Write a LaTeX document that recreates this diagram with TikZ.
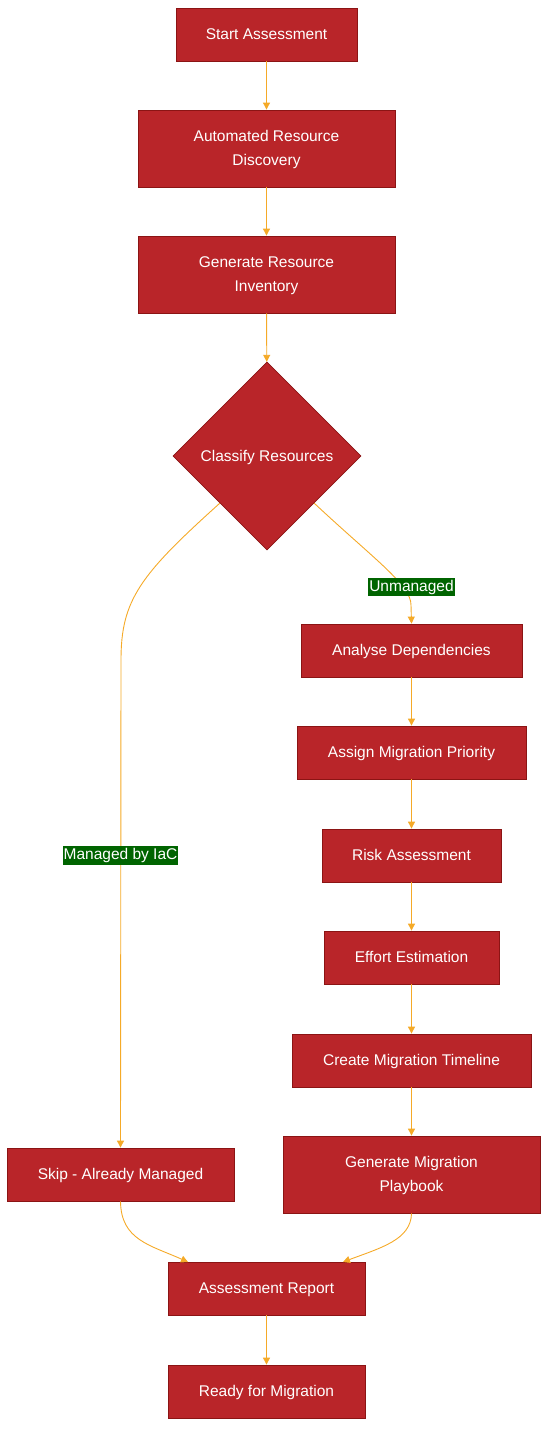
\documentclass[tikz,border=0pt]{standalone}
\usepackage{fontspec}
\setmainfont{Liberation Sans}
\usetikzlibrary{shapes.geometric,arrows.meta}

\definecolor{boxred}{RGB}{185,37,41}
\definecolor{boxline}{RGB}{139,20,20}
\definecolor{flowgold}{RGB}{245,170,40}
\definecolor{labelgreen}{RGB}{0,100,0}

\tikzset{
  stepbox/.style={draw=boxline, line width=0.8pt, fill=boxred, text=white,
    minimum height=53pt, inner sep=0pt, align=center, text depth=1pt,
    font=\fontsize{15.5}{24}\selectfont},
  decision/.style={diamond, draw=boxline, line width=0.8pt, fill=boxred, text=white,
    minimum width=188pt, minimum height=188pt, aspect=1, inner sep=0pt,
    text depth=1pt, font=\fontsize{15.5}{24}\selectfont},
  flowarrow/.style={draw=flowgold, line width=0.9pt,
    -{Triangle[width=7pt,length=7pt]}},
  edgelabel/.style={fill=labelgreen, text=white, inner xsep=1pt, inner ysep=2pt,
    font=\fontsize{15.5}{18}\selectfont}
}

\begin{document}
\begin{tikzpicture}[x=1pt,y=-1pt]
    \useasboundingbox (0,0) rectangle (556,1447);

    % Main column
    \node[stepbox, minimum width=181pt] (start) at (266.5,34.5) {Start Assessment};
    \node[stepbox, minimum width=257pt, minimum height=77pt] (disc) at (266.5,148.5) {Automated Resource\\Discovery};
    \node[stepbox, minimum width=257pt, minimum height=77pt] (inv) at (266.5,274.5) {Generate Resource\\Inventory};
    \node[decision] (cls) at (267,456) {Classify Resources};

    % Unmanaged branch on the right
    \node[stepbox, minimum width=221pt] (dep) at (411.5,650.5) {Analyse Dependencies};
    \node[stepbox, minimum width=229pt] (prio) at (411.5,752.5) {Assign Migration Priority};
    \node[stepbox, minimum width=179pt] (risk) at (411.5,855.5) {Risk Assessment};
    \node[stepbox, minimum width=175pt] (effort) at (411.5,957.5) {Effort Estimation};
    \node[stepbox, minimum width=239pt] (timeline) at (411.5,1060.5) {Create Migration Timeline};
    \node[stepbox, minimum width=257pt, minimum height=77pt] (play) at (411.5,1174.5) {Generate Migration\\Playbook};

    % Managed branch on the left
    \node[stepbox, minimum width=227pt] (skip) at (120.5,1174.5) {Skip - Already Managed};

    % Bottom
    \node[stepbox, minimum width=197pt] (report) at (266.5,1288.5) {Assessment Report};
    \node[stepbox, minimum width=197pt] (ready) at (266.5,1391.5) {Ready for Migration};

    % Straight arrows
    \draw[flowarrow] (start) -- (disc);
    \draw[flowarrow] (disc) -- (inv);
    \draw[flowarrow] (inv) -- (cls);
    \draw[flowarrow] (dep) -- (prio);
    \draw[flowarrow] (prio) -- (risk);
    \draw[flowarrow] (risk) -- (effort);
    \draw[flowarrow] (effort) -- (timeline);
    \draw[flowarrow] (timeline) -- (play);
    \draw[flowarrow] (report) -- (ready);

    % Branch curves
    \draw[flowarrow] (cls.south west) .. controls (140,575) and (121,600) .. (121,660) -- (skip.north);
    \draw[flowarrow] (cls.south east) .. controls (375,560) and (411,585) .. (411,605) -- (dep.north);
    \draw[flowarrow] (skip.south) .. controls (121,1240) and (150,1245) .. (188,1262);
    \draw[flowarrow] (play.south) .. controls (411,1240) and (380,1248) .. (343,1262);

    % Branch labels
    \node[edgelabel] (lblun) at (411.5,587) {Unmanaged};
    \node[edgelabel] (lblman) at (120.5,855.5) {Managed by IaC};
\end{tikzpicture}
\end{document}
